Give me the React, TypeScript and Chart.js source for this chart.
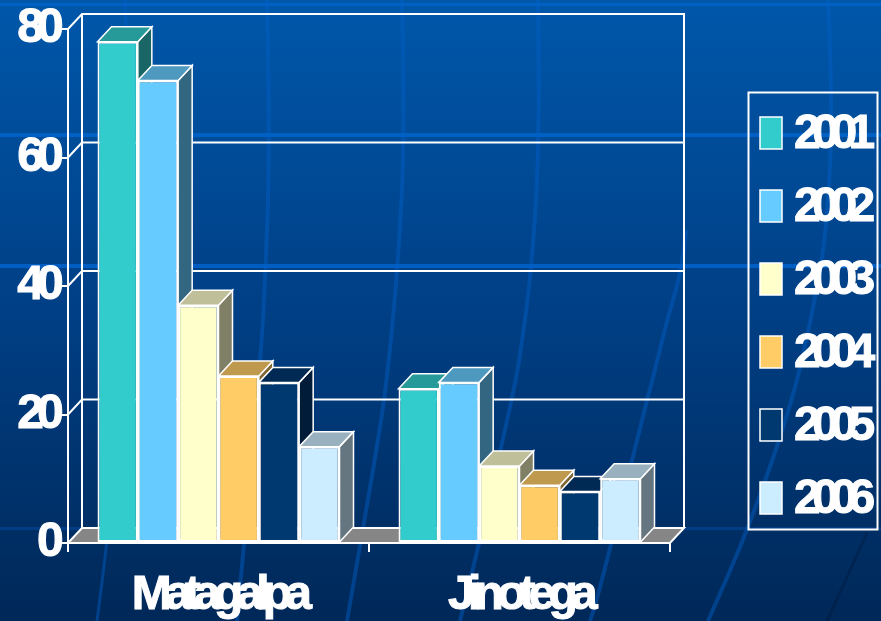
import React, { useEffect, useRef } from "react";
import { Chart, registerables } from "chart.js";

Chart.register(...registerables);

const categories = ["Matagalpa", "Jinotega"];
const years = ["2001", "2002", "2003", "2004", "2005", "2006"];
const values2001 = [78, 24];
const values2002 = [72, 25];
const values2003 = [37, 12];
const values2004 = [26, 9];
const values2005 = [25, 8];
const values2006 = [15, 10];
const seriesValues = [values2001, values2002, values2003, values2004, values2005, values2006];
const yTicks = [0, 20, 40, 60, 80];
const colours = ["#33CCCC", "#66CCFF", "#FFFFCC", "#FFCC66", "#003870", "#CCECFF"];

const W = 881;
const H = 621;
const DX = 14;
const DY = 15;
const FONT = '"Liberation Sans", Arial, sans-serif';
const FONT_SIZE = 48;
const SPACING = "-6.8px";
const LEGEND_SPACING = "-8.5px";

const shade = (hex: string, k: number) => {
  const n = parseInt(hex.slice(1), 16);
  const r = Math.round(((n >> 16) & 255) * k);
  const g = Math.round(((n >> 8) & 255) * k);
  const b = Math.round((n & 255) * k);
  return `rgb(${r},${g},${b})`;
};

const poly = (ctx: any, pts: number[][], fill: string | null, stroke: string | null, lw = 1.5) => {
  ctx.beginPath();
  pts.forEach((p, i) => (i ? ctx.lineTo(p[0], p[1]) : ctx.moveTo(p[0], p[1])));
  ctx.closePath();
  if (fill) {
    ctx.fillStyle = fill;
    ctx.fill();
  }
  if (stroke) {
    ctx.strokeStyle = stroke;
    ctx.lineWidth = lw;
    ctx.stroke();
  }
};

const backdropCurves: number[][][] = [
  [[125, 0], [130, 133], [127, 266], [118, 430], [107, 543], [97, 621]],
  [[267, 0], [270, 133], [266, 266], [260, 370], [244, 543], [237, 621]],
  [[402, 0], [405, 133], [398, 266], [388, 370], [380, 430], [347, 621]],
  [[538, 0], [540, 133], [532, 266], [521, 350], [513, 395], [480, 540], [460, 621]],
  [[686, 230], [683, 266], [667, 320], [655, 370], [647, 400], [633, 457], [597, 600], [590, 621]],
  [[828, 0], [833, 100], [827, 230], [813, 310], [793, 400], [750, 525], [708, 621]],
];

const drawCurve = (ctx: any, pts: number[][]) => {
  ctx.beginPath();
  ctx.moveTo(pts[0][0], pts[0][1]);
  for (let i = 1; i < pts.length - 1; i++) {
    const mx = (pts[i][0] + pts[i + 1][0]) / 2;
    const my = (pts[i][1] + pts[i + 1][1]) / 2;
    ctx.quadraticCurveTo(pts[i][0], pts[i][1], mx, my);
  }
  const last = pts[pts.length - 1];
  ctx.lineTo(last[0], last[1]);
  ctx.stroke();
};

const scene3d = {
  id: "scene3d",
  beforeDraw(chart: any) {
    const ctx = chart.ctx;
    const { left, right, top, bottom } = chart.chartArea;
    ctx.save();
    const g = ctx.createLinearGradient(0, 0, 0, H);
    g.addColorStop(0, "#0057AA");
    g.addColorStop(0.5, "#003F85");
    g.addColorStop(1, "#002858");
    ctx.fillStyle = g;
    ctx.fillRect(0, 0, W, H);

    ctx.lineCap = "butt";
    ctx.strokeStyle = "rgba(0,96,200,0.45)";
    backdropCurves.forEach((c, i) => {
      ctx.lineWidth = i === 0 ? 3 : 4;
      drawCurve(ctx, c);
    });
    ctx.strokeStyle = "rgba(0,20,50,0.3)";
    ctx.lineWidth = 3;
    ctx.beginPath();
    ctx.moveTo(867, 533);
    ctx.lineTo(827, 621);
    ctx.stroke();

    ctx.fillStyle = "#0060C4";
    ctx.fillRect(0, 3, W, 3);
    ctx.fillRect(0, 133, W, 4);
    ctx.fillStyle = "rgba(0,96,200,0.9)";
    ctx.fillRect(0, 264, W, 4);
    ctx.fillStyle = "rgba(0,80,170,0.45)";
    ctx.fillRect(0, 527, W, 3);

    // walls and floor
    const y = chart.scales.y;
    ctx.strokeStyle = "#fff";
    ctx.lineWidth = 2;
    ctx.beginPath();
    ctx.moveTo(left, top);
    ctx.lineTo(left + DX, top - DY);
    ctx.lineTo(right + DX, top - DY);
    ctx.lineTo(right + DX, bottom - DY);
    ctx.moveTo(left + DX, top - DY);
    ctx.lineTo(left + DX, bottom - DY);
    y.ticks.forEach((t: any) => {
      const py = y.getPixelForValue(t.value);
      if (t.value === 0 || t.value === yTicks[yTicks.length - 1]) return;
      ctx.moveTo(left, py);
      ctx.lineTo(left + DX, py - DY);
      ctx.lineTo(right + DX, py - DY);
    });
    ctx.stroke();
    poly(
      ctx,
      [
        [left, bottom],
        [left + DX, bottom - DY],
        [right + DX, bottom - DY],
        [right, bottom],
      ],
      "#868686",
      "#fff",
      2
    );
    ctx.restore();
    ctx.letterSpacing = SPACING;
  },
  beforeDatasetsDraw(chart: any) {
    const ctx = chart.ctx;
    ctx.save();
    chart.data.datasets.forEach((_: any, index: number) => {
      const colour = colours[index];
      chart.getDatasetMeta(index).data.forEach((bar: any) => {
        const l = bar.x - bar.width / 2;
        const r = bar.x + bar.width / 2;
        const t = bar.y;
        const b = bar.base;
        poly(ctx, [[r, t], [r + DX, t - DY], [r + DX, b - DY], [r, b]], shade(colour, 0.5), "#fff", 1.5);
        poly(ctx, [[l, t], [l + DX, t - DY], [r + DX, t - DY], [r, t]], shade(colour, 0.75), "#fff", 1.5);
      });
    });
    ctx.restore();
  },
  afterDraw(chart: any) {
    const ctx = chart.ctx;
    ctx.save();
    ctx.strokeStyle = "#fff";
    ctx.lineWidth = 2;
    ctx.strokeRect(748.5, 92.5, 129, 437);
    ctx.font = `bold ${FONT_SIZE}px ${FONT}`;
    ctx.textBaseline = "middle";
    ctx.textAlign = "left";
    ctx.letterSpacing = LEGEND_SPACING;
    chart.data.datasets.forEach((ds: any, i: number) => {
      const top = 117 + i * 73;
      ctx.fillStyle = ds.backgroundColor;
      ctx.strokeStyle = "#fff";
      ctx.lineWidth = 1.5;
      ctx.fillRect(760, top, 22, 32);
      ctx.strokeRect(760, top, 22, 32);
      ctx.fillStyle = "#fff";
      ctx.fillText(ds.label, 794, top + 18);
      ctx.lineWidth = 1;
      ctx.strokeText(ds.label, 794, top + 18);
    });
    ctx.restore();
  },
};

const noLabelPadding = (s: any) => {
  s.paddingTop = 0;
  s.paddingBottom = 0;
  s.paddingLeft = 0;
  s.paddingRight = 0;
};

export default function App() {
  const ref = useRef<HTMLCanvasElement>(null);
  useEffect(() => {
    const chart = new Chart(ref.current as HTMLCanvasElement, {
      type: "bar",
      plugins: [scene3d],
      data: {
        labels: categories,
        datasets: years.map((year, i) => ({
          label: year,
          data: seriesValues[i],
          backgroundColor: colours[i],
          borderColor: "#fff",
          borderWidth: 2,
          borderSkipped: false,
          barPercentage: 1,
          categoryPercentage: 0.804,
        })),
      },
      options: {
        responsive: false,
        animation: false,
        layout: { padding: { left: 0, top: 29, right: W - 670, bottom: 0 } },
        plugins: { legend: { display: false }, tooltip: { enabled: false } },
        scales: {
          x: {
            afterFit: (s: any) => {
              s.height = H - 543;
              noLabelPadding(s);
            },
            grid: { drawOnChartArea: false, color: "#fff", lineWidth: 2, tickLength: 9, offset: true },
            border: { color: "#fff", width: 2 },
            ticks: {
              color: "#fff",
              font: { family: FONT, size: FONT_SIZE, weight: "bold" },
              textStrokeColor: "#fff",
              textStrokeWidth: 1,
              padding: 15,
              maxRotation: 0,
              autoSkip: false,
            },
          },
          y: {
            min: 0,
            max: 80,
            afterFit: (s: any) => {
              s.width = 68;
              noLabelPadding(s);
            },
            grid: { drawOnChartArea: false, color: "#fff", lineWidth: 2, tickLength: 6 },
            border: { color: "#fff", width: 2 },
            ticks: {
              stepSize: 20,
              color: "#fff",
              font: { family: FONT, size: FONT_SIZE, weight: "bold" },
              textStrokeColor: "#fff",
              textStrokeWidth: 1,
              padding: 5,
            },
          },
        },
      },
    } as any);
    return () => chart.destroy();
  }, []);
  return (
    <canvas
      ref={ref}
      width={W}
      height={H}
      style={{ position: "fixed", left: 0, top: 0, width: W, height: H, display: "block" }}
    />
  );
}
